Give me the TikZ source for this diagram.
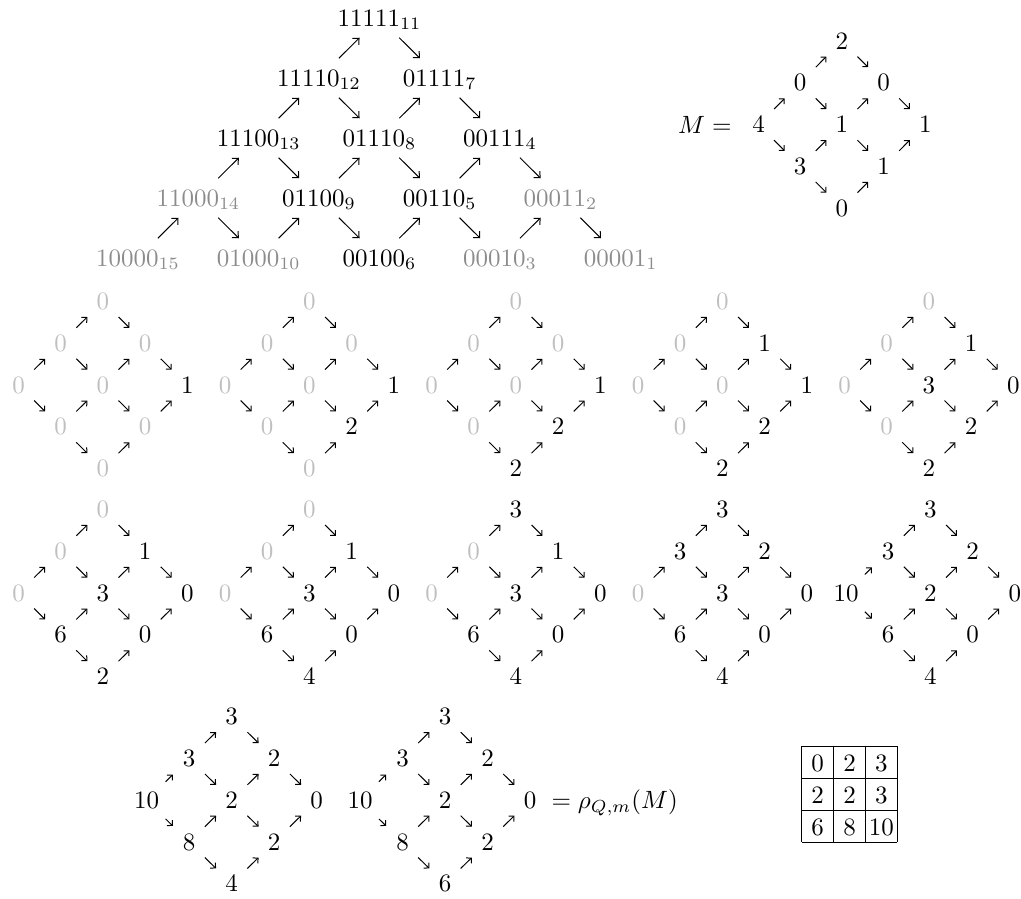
\documentclass[tikz,border=0pt]{standalone}
\usetikzlibrary{arrows.meta}
\tikzset{
  lbl/.style={inner sep=0pt, text height=6.44pt, text depth=0pt},
  gp/.style={text=black!45},
  gd/.style={text=black!25},
  k/.style={},
  parr/.style={line width=0.4pt, -{Straight Barb[length=1.9pt,width=3.6pt]}, shorten <=11.2pt, shorten >=11.2pt},
  darr/.style={line width=0.4pt, -{Straight Barb[length=1.5pt,width=3pt]}, shorten <=8.8pt, shorten >=8.8pt},
  tenarr/.style={shorten <=10.6pt, shorten >=9.2pt},
  tbl/.style={line width=0.4pt},
}
\newcommand\dgm[6]{%
  \foreach \ci/\ri/\lab/\sty in {#5} {
    \node[lbl,\sty] (#1-\ci-\ri) at ({#2+#4*\ci},{#3+41.8*\ri}) {\lab};
  }
  \foreach \aa/\bb in {0-2/1-1,0-2/1-3} {\draw[darr,#6] (#1-\aa.center) -- (#1-\bb.center);}
  \foreach \aa/\bb in {1-1/2-0,1-1/2-2,1-3/2-2,1-3/2-4,2-0/3-1,2-2/3-1,2-2/3-3,2-4/3-3,3-1/4-2,3-3/4-2} {\draw[darr] (#1-\aa.center) -- (#1-\bb.center);}
}
\begin{document}
\begin{tikzpicture}[x=0.4pt,y=-0.4pt]
\useasboundingbox (0,0) rectangle (1021,899);
% ---------- poset ----------
\foreach \ci/\ri/\lab/\sty in {
  4/0/{11111$_{11}$}/k,
  3/1/{11110$_{12}$}/k, 5/1/{01111$_{7}$}/k,
  2/2/{11100$_{13}$}/k, 4/2/{01110$_{8}$}/k, 6/2/{00111$_{4}$}/k,
  1/3/{11000$_{14}$}/gp, 3/3/{01100$_{9}$}/k, 5/3/{00110$_{5}$}/k, 7/3/{00011$_{2}$}/gp,
  0/4/{10000$_{15}$}/gp, 2/4/{01000$_{10}$}/gp, 4/4/{00100$_{6}$}/k, 6/4/{00010$_{3}$}/gp, 8/4/{00001$_{1}$}/gp}
  {\node[lbl,\sty] (p-\ci-\ri) at ({138+60.35*\ci},{18+60*\ri}) {\lab};}
\foreach \aa/\bb in {3-1/4-0, 2-2/3-1, 4-2/5-1, 1-3/2-2, 3-3/4-2, 5-3/6-2,
  0-4/1-3, 2-4/3-3, 4-4/5-3, 6-4/7-3,
  4-0/5-1, 3-1/4-2, 5-1/6-2, 2-2/3-3, 4-2/5-3, 6-2/7-3,
  1-3/2-4, 3-3/4-4, 5-3/6-4, 7-3/8-4}
  {\draw[parr] (p-\aa.center) -- (p-\bb.center);}
% ---------- M ----------
\node[lbl,anchor=east] (Mlab) at (732,125) {$M=$};
\dgm{m}{758.5}{41}{41.7}{0/2/4/k, 1/1/0/k, 1/3/3/k, 2/0/2/k, 2/2/1/k, 2/4/0/k, 3/1/0/k, 3/3/1/k, 4/2/1/k}{}
% ---------- row 2 ----------
\dgm{a1}{18.5}{301.5}{42.2}{0/2/0/gd, 1/1/0/gd, 1/3/0/gd, 2/0/0/gd, 2/2/0/gd, 2/4/0/gd, 3/1/0/gd, 3/3/0/gd, 4/2/1/k}{}
\dgm{a2}{225}{301.5}{42.2}{0/2/0/gd, 1/1/0/gd, 1/3/0/gd, 2/0/0/gd, 2/2/0/gd, 2/4/0/gd, 3/1/0/gd, 3/3/2/k, 4/2/1/k}{}
\dgm{a3}{431.5}{301.5}{42.2}{0/2/0/gd, 1/1/0/gd, 1/3/0/gd, 2/0/0/gd, 2/2/0/gd, 2/4/2/k, 3/1/0/gd, 3/3/2/k, 4/2/1/k}{}
\dgm{a4}{638}{301.5}{42.2}{0/2/0/gd, 1/1/0/gd, 1/3/0/gd, 2/0/0/gd, 2/2/0/gd, 2/4/2/k, 3/1/1/k, 3/3/2/k, 4/2/1/k}{}
\dgm{a5}{844.5}{301.5}{42.2}{0/2/0/gd, 1/1/0/gd, 1/3/0/gd, 2/0/0/gd, 2/2/3/k, 2/4/2/k, 3/1/1/k, 3/3/2/k, 4/2/0/k}{}
% ---------- row 3 ----------
\dgm{b1}{18.5}{509.5}{42.2}{0/2/0/gd, 1/1/0/gd, 1/3/6/k, 2/0/0/gd, 2/2/3/k, 2/4/2/k, 3/1/1/k, 3/3/0/k, 4/2/0/k}{}
\dgm{b2}{225}{509.5}{42.2}{0/2/0/gd, 1/1/0/gd, 1/3/6/k, 2/0/0/gd, 2/2/3/k, 2/4/4/k, 3/1/1/k, 3/3/0/k, 4/2/0/k}{}
\dgm{b3}{431.5}{509.5}{42.2}{0/2/0/gd, 1/1/0/gd, 1/3/6/k, 2/0/3/k, 2/2/3/k, 2/4/4/k, 3/1/1/k, 3/3/0/k, 4/2/0/k}{}
\dgm{b4}{638}{509.5}{42.2}{0/2/0/gd, 1/1/3/k, 1/3/6/k, 2/0/3/k, 2/2/3/k, 2/4/4/k, 3/1/2/k, 3/3/0/k, 4/2/0/k}{}
\dgm{b5}{846}{509.5}{42.2}{0/2/10/k, 1/1/3/k, 1/3/6/k, 2/0/3/k, 2/2/2/k, 2/4/4/k, 3/1/2/k, 3/3/0/k, 4/2/0/k}{tenarr}
% ---------- row 4 ----------
\dgm{c1}{146.7}{716.7}{42.5}{0/2/10/k, 1/1/3/k, 1/3/8/k, 2/0/3/k, 2/2/2/k, 2/4/4/k, 3/1/2/k, 3/3/2/k, 4/2/0/k}{tenarr}
\dgm{c2}{360}{716.7}{42.5}{0/2/10/k, 1/1/3/k, 1/3/8/k, 2/0/3/k, 2/2/2/k, 2/4/6/k, 3/1/2/k, 3/3/2/k, 4/2/0/k}{tenarr}
\node[lbl,anchor=west] (rho) at (551,800.3) {$=\rho_{Q,m}(M)$};
% ---------- table ----------
\foreach \i in {0,...,3} {\draw[tbl] ({801.7+31.87*\i},746) -- ({801.7+31.87*\i},842);}
\foreach \j in {0,...,3} {\draw[tbl] (801.7,{746+32*\j}) -- (897.3,{746+32*\j});}
\foreach \ri/\ci/\lab in {0/0/0, 0/1/2, 0/2/3, 1/0/2, 1/1/2, 1/2/3, 2/0/6, 2/1/8, 2/2/10}
  {\node[lbl] (t-\ri-\ci) at ({801.7+31.87*(\ci+0.5)},{746+32*(\ri+0.5)+1}) {\lab};}
\end{tikzpicture}
\end{document}
